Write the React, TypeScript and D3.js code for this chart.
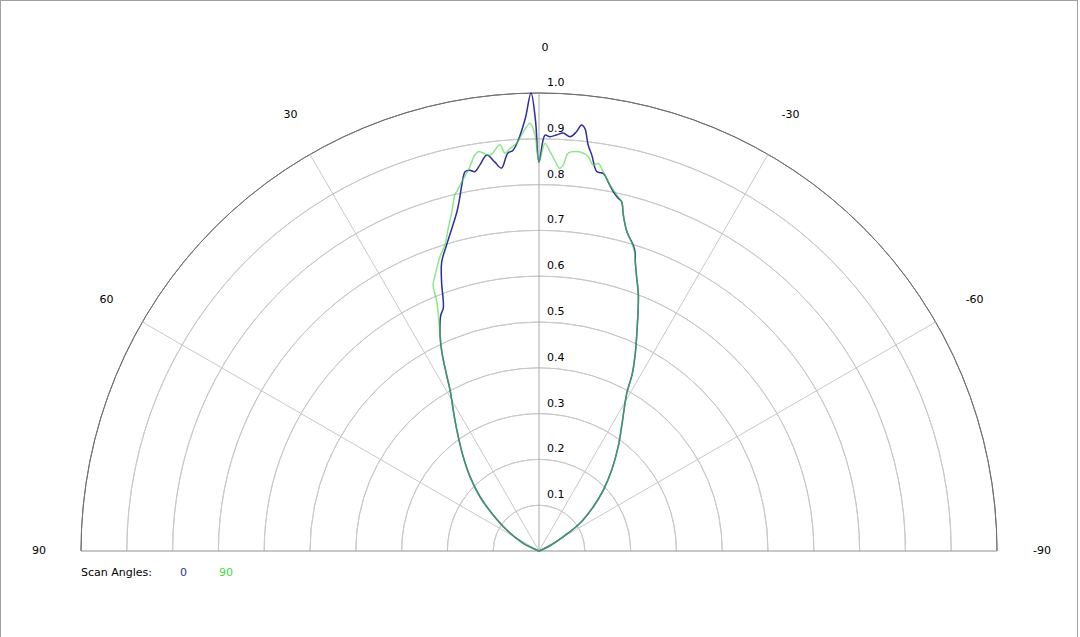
import React, { useEffect, useRef } from "react";
import * as d3 from "d3";

// scan angle 0 (blue) : angle in degrees (positive = left), normalised intensity
const scan0Angles = [
  90, 63.9, 57.0, 51.4, 47.4, 42.9, 38.8, 35.2, 32.7, 28.9, 27.7, 26.0, 24.6,
  22.6, 21.5, 19.9, 18.6, 16.8, 15.1, 13.6, 12.6, 11.9, 11.0, 10.3, 9.6, 8.7,
  7.5, 6.5, 5.6, 4.5, 3.7, 2.9, 1.8, 1.0, 0.47, 0, -0.83, -1.5, -2.4, -3.3,
  -4.3, -5.1, -5.7, -6.2, -6.9, -7.6, -8.65, -9.7, -10.6, -11.7, -12.7, -13.3,
  -14.1, -15.4, -17.1, -17.8, -18.4, -19.7, -21.2, -23.8, -26.1, -27.8, -29.1,
  -33.6, -37.2, -41.9, -46.5, -50.8, -55.9, -59.5, -65.2, -90,
];
const scan0Values = [
  0, 0.038, 0.084, 0.132, 0.175, 0.221, 0.264, 0.306, 0.34, 0.402, 0.434,
  0.484, 0.519, 0.558, 0.57, 0.625, 0.666, 0.698, 0.73, 0.762, 0.792, 0.817,
  0.844, 0.845, 0.84, 0.853, 0.872, 0.855, 0.84, 0.871, 0.877, 0.898, 0.946,
  1.0, 0.941, 0.849, 0.908, 0.905, 0.909, 0.914, 0.907, 0.919, 0.935, 0.928,
  0.893, 0.872, 0.838, 0.836, 0.82, 0.801, 0.789, 0.784, 0.756, 0.723, 0.699,
  0.686, 0.666, 0.633, 0.6, 0.531, 0.477, 0.436, 0.394, 0.326, 0.286, 0.238,
  0.194, 0.153, 0.108, 0.062, 0.022, 0,
];

// scan angle 90 (green)
const scan90Angles = [
  90, 63.9, 57.0, 51.4, 47.4, 42.9, 38.8, 35.2, 32.7, 28.9, 27.7, 26.0, 24.6,
  23.1, 22.3, 21.7, 20.6, 18.6, 17.1, 15.7, 14.4, 13.3, 12.9, 11.8, 10.5, 9.2,
  8.6, 7.05, 5.5, 4.9, 4.1, 3.1, 2.4, 1.2, 0.55, 0, -0.84, -1.6, -2.3, -3.1,
  -3.6, -4.2, -5.4, -6.4, -7.1, -8.0, -8.7, -9.6, -11.0, -12.3, -13.3, -14.1,
  -15.4, -17.1, -17.8, -18.4, -19.7, -21.2, -23.8, -26.1, -27.8, -29.1, -33.6,
  -37.2, -41.9, -46.5, -50.8, -55.9, -59.5, -65.2, -90,
];
const scan90Values = [
  0, 0.038, 0.084, 0.132, 0.175, 0.221, 0.264, 0.306, 0.34, 0.402, 0.434,
  0.484, 0.519, 0.56, 0.588, 0.625, 0.644, 0.678, 0.699, 0.732, 0.765, 0.799,
  0.805, 0.824, 0.846, 0.876, 0.882, 0.871, 0.891, 0.872, 0.881, 0.892, 0.909,
  0.934, 0.908, 0.85, 0.89, 0.872, 0.854, 0.837, 0.845, 0.871, 0.876, 0.874,
  0.868, 0.851, 0.856, 0.84, 0.814, 0.796, 0.784, 0.756, 0.723, 0.697, 0.683,
  0.666, 0.633, 0.6, 0.531, 0.477, 0.436, 0.394, 0.326, 0.286, 0.238, 0.194,
  0.153, 0.108, 0.062, 0.022, 0,
];

const ringTicks = [0.1, 0.2, 0.3, 0.4, 0.5, 0.6, 0.7, 0.8, 0.9, 1.0];
const spokeAngles = [90, 60, 30, 0, -30, -60, -90];

const App: React.FC = () => {
  const svgRef = useRef<SVGSVGElement | null>(null);

  useEffect(() => {
    if (!svgRef.current) return;
    const svg = d3.select(svgRef.current);
    svg.selectAll("*").remove();

    const width = 1080;
    const height = 637;
    const cx = 539;
    const cy = 551;
    const radius = 458;
    const font = "'DejaVu Sans', Verdana, sans-serif";

    svg.attr("width", width).attr("height", height);

    svg
      .append("rect")
      .attr("x", 0.5)
      .attr("y", 0.5)
      .attr("width", 1077)
      .attr("height", 660)
      .attr("fill", "#fff")
      .attr("stroke", "#a0a0a0");

    const r = d3.scaleLinear().domain([0, 1]).range([0, radius]);
    const toRad = (deg: number) => (-deg * Math.PI) / 180;

    const g = svg.append("g").attr("transform", `translate(${cx},${cy})`);

    // rings
    const arc = d3
      .arc<number>()
      .innerRadius((d) => r(d))
      .outerRadius((d) => r(d))
      .startAngle(-Math.PI / 2)
      .endAngle(Math.PI / 2);

    g.selectAll("path.ring")
      .data(ringTicks)
      .enter()
      .append("path")
      .attr("class", "ring")
      .attr("d", (d) => arc(d))
      .attr("fill", "none")
      .attr("stroke", (d) => (d === 1 ? "#707070" : "#c8c8c8"))
      .attr("stroke-width", 1);

    // spokes
    g.selectAll("line.spoke")
      .data(spokeAngles)
      .enter()
      .append("line")
      .attr("class", "spoke")
      .attr("x1", 0)
      .attr("y1", 0)
      .attr("x2", (d) => r(1) * Math.sin(toRad(d)))
      .attr("y2", (d) => -r(1) * Math.cos(toRad(d)))
      .attr("stroke", (d) =>
        Math.abs(d) === 90 ? "#909090" : d === 0 ? "#a8a8a8" : "#c8c8c8"
      )
      .attr("stroke-width", 1);

    // angle labels
    g.selectAll("text.angle")
      .data(spokeAngles)
      .enter()
      .append("text")
      .attr("class", "angle")
      .attr("x", (d) => 503 * Math.sin(toRad(d)) + (d === 0 ? 6 : d > 0 ? 3 : 0))
      .attr("y", (d) => -503 * Math.cos(toRad(d)))
      .attr("text-anchor", "middle")
      .attr("dominant-baseline", "middle")
      .attr("font-family", font)
      .attr("font-size", 11)
      .attr("fill", "#000")
      .text((d) => `${d}`);

    // ring labels
    g.selectAll("text.ringlabel")
      .data(ringTicks)
      .enter()
      .append("text")
      .attr("class", "ringlabel")
      .attr("x", 8)
      .attr("y", (d) => -r(d) - 10)
      .attr("dominant-baseline", "middle")
      .attr("font-family", font)
      .attr("font-size", 11)
      .attr("fill", "#000")
      .text((d) => d.toFixed(1));

    const line = d3
      .lineRadial<[number, number]>()
      .angle((d) => toRad(d[0]))
      .radius((d) => r(d[1]))
      .curve(d3.curveCatmullRom.alpha(0.5));

    const s0 = scan0Angles.map((a, i) => [a, scan0Values[i]] as [number, number]);
    const s90 = scan90Angles.map(
      (a, i) => [a, scan90Values[i]] as [number, number]
    );

    g.append("path")
      .attr("d", line(s0))
      .attr("fill", "none")
      .attr("stroke", "#2e2e9e")
      .attr("stroke-width", 1.5);

    g.append("path")
      .attr("d", line(s90))
      .attr("fill", "none")
      .attr("stroke", "#46d846")
      .attr("stroke-opacity", 0.62)
      .attr("stroke-width", 1.5);

    // legend
    const lg = svg.append("g").attr("font-family", font).attr("font-size", 11);
    lg.append("text")
      .attr("x", 81)
      .attr("y", 573)
      .attr("dominant-baseline", "middle")
      .attr("fill", "#000")
      .text("Scan Angles:");
    lg.append("text")
      .attr("x", 180)
      .attr("y", 573)
      .attr("dominant-baseline", "middle")
      .attr("fill", "#2e2e9e")
      .text("0");
    lg.append("text")
      .attr("x", 219)
      .attr("y", 573)
      .attr("dominant-baseline", "middle")
      .attr("fill", "#46d846")
      .text("90");
  }, []);

  return (
    <svg
      ref={svgRef}
      style={{ position: "absolute", left: 0, top: 0, display: "block" }}
    ></svg>
  );
};

export default App;
